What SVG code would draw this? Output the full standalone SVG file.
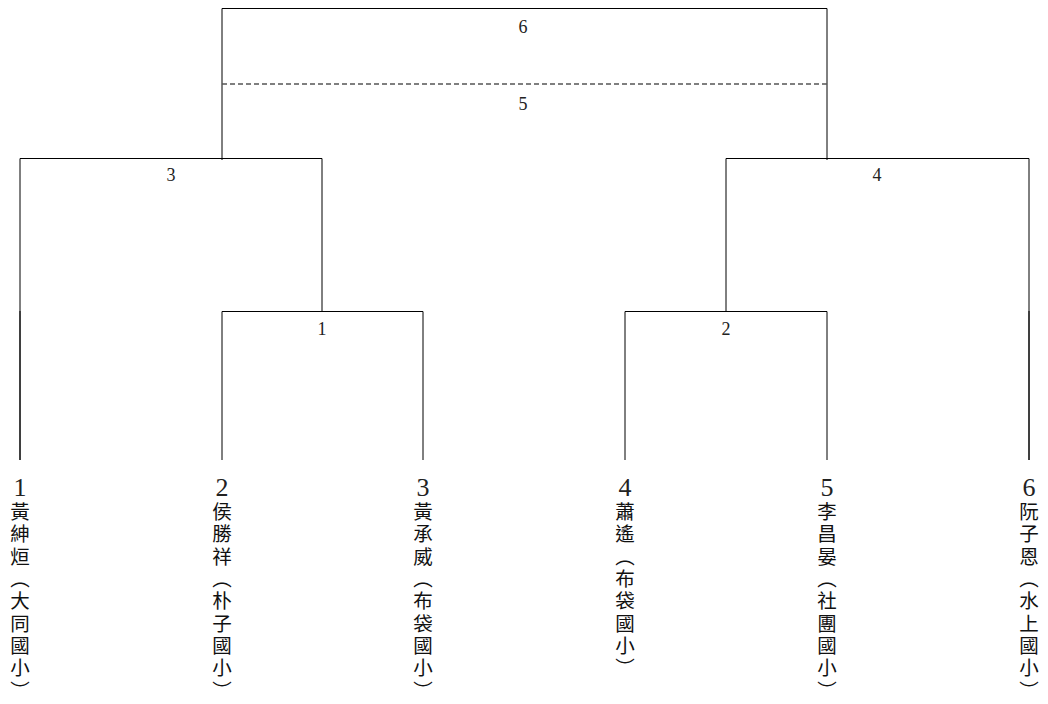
<svg xmlns="http://www.w3.org/2000/svg" width="1048" height="704" viewBox="0 0 1048 704">
<style>
.ln{stroke:#000;stroke-width:1;fill:none}
.dash{stroke:#555;stroke-width:1.4;stroke-dasharray:5 3;fill:none}
.lbl{font-family:"Liberation Serif","DejaVu Serif",serif;font-size:18px;fill:#222;text-anchor:middle}
.num{font-family:"Liberation Serif","DejaVu Serif",serif;font-size:26px;fill:#222;text-anchor:middle}
.name{font-family:"Noto Sans CJK TC","Noto Sans CJK SC",sans-serif;font-size:19.5px;fill:#111;writing-mode:vertical-rl;letter-spacing:2.8px}
</style>
<rect width="1048" height="704" fill="#fff"/>
<g id="connectors">
<path class="ln" d="M222 160V8.5H827V160"/>
<path class="dash" d="M222 84H827"/>
<path class="ln" d="M20 460V158.5H322V311"/>
<path class="ln" d="M20 311V460"/>
<path class="ln" d="M222 460V311.5H423V460"/>
<path class="ln" d="M1029 460V158.5H726V311"/>
<path class="ln" d="M1029 311V460"/>
<path class="ln" d="M625 460V311.5H827V460"/>
</g>
<g id="match-labels">
<text class="lbl" x="523" y="33">6</text>
<text class="lbl" x="523" y="110">5</text>
<text class="lbl" x="171" y="181">3</text>
<text class="lbl" x="877" y="181">4</text>
<text class="lbl" x="322" y="335">1</text>
<text class="lbl" x="726" y="335">2</text>
</g>
<g id="p1"><text class="num" x="20" y="496">1</text><text class="name" x="20" y="502">黃紳烜（大同國小）</text></g>
<g id="p2"><text class="num" x="222" y="496">2</text><text class="name" x="222" y="502">侯勝祥（朴子國小）</text></g>
<g id="p3"><text class="num" x="423" y="496">3</text><text class="name" x="423" y="502">黃承威（布袋國小）</text></g>
<g id="p4"><text class="num" x="625" y="496">4</text><text class="name" x="625" y="502">蕭遙（布袋國小）</text></g>
<g id="p5"><text class="num" x="827" y="496">5</text><text class="name" x="827" y="502">李昌晏（社團國小）</text></g>
<g id="p6"><text class="num" x="1029" y="496">6</text><text class="name" x="1029" y="502">阮子恩（水上國小）</text></g>
</svg>
